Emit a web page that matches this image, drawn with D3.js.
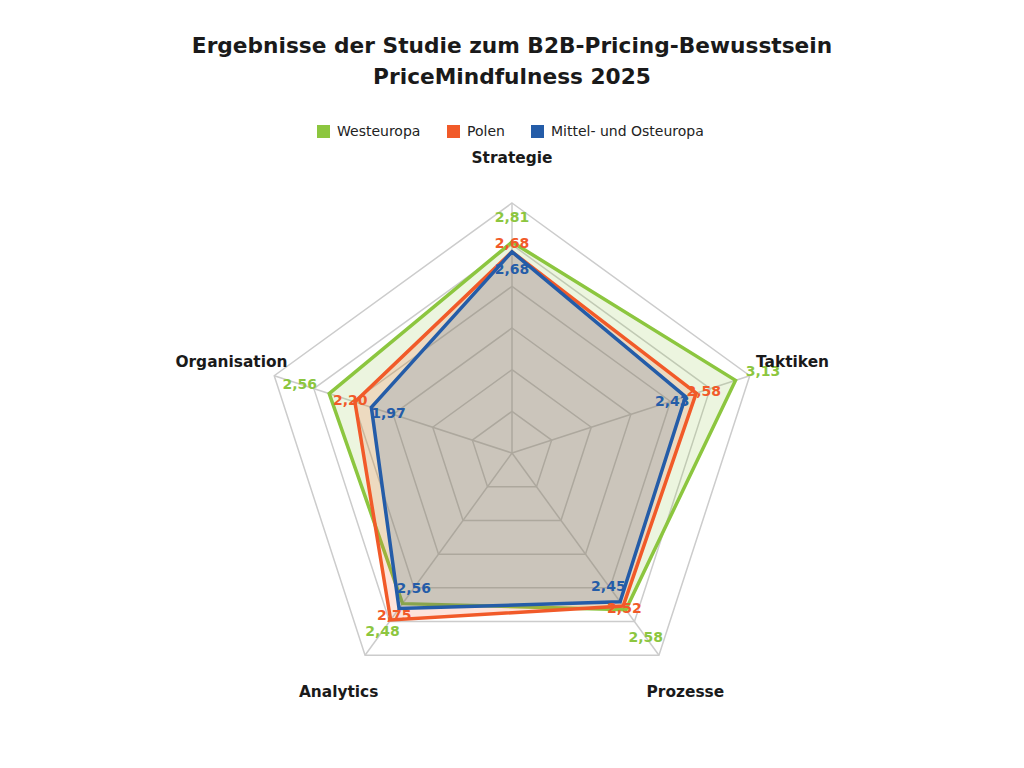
<!DOCTYPE html>
<html>
<head>
<meta charset="utf-8">
<script src="https://cdn.jsdelivr.net/npm/d3@7"></script>
<style>
  body { margin: 0; background: #fff; }
  svg { display: block; }
</style>
</head>
<body>
<svg width="1024" height="768"></svg>
<script>
// data
var categories = ["Strategie", "Taktiken", "Prozesse", "Analytics", "Organisation"];
var seriesNames = ["Westeuropa", "Polen", "Mittel- und Osteuropa"];
var westeuropa = [2.81, 3.13, 2.58, 2.48, 2.56];
var polen = [2.68, 2.58, 2.52, 2.75, 2.20];
var moe = [2.68, 2.43, 2.45, 2.56, 1.97];
var seriesColors = ["#8cc63f", "#f15a29", "#245ca8"];
var maxValue = 3.33;
var ringCount = 6;

var series = [westeuropa, polen, moe];
// radial nudge of each value label away from its point (px), per series and axis
var labelShift = [
  [25, 29, 34, 34, 31],
  [9, 8, 2, -6, 5],
  [-17, -14, -20, -25, -18]
];

var svg = d3.select("svg");
var cx = 512, cy = 453, radius = 250;

var rscale = d3.scaleLinear().domain([0, maxValue]).range([0, radius]);
var ascale = d3.scalePoint().domain(categories).range([0, 2 * Math.PI * 4 / 5]);

function px(cat, r) { return Math.sin(ascale(cat)) * r; }
function py(cat, r) { return -Math.cos(ascale(cat)) * r; }

// title
svg.append("text")
   .attr("x", 512).attr("y", 53)
   .attr("text-anchor", "middle")
   .attr("font-family", "DejaVu Sans").attr("font-weight", "bold")
   .attr("font-size", 21.7).attr("fill", "#1a1a1a")
   .text("Ergebnisse der Studie zum B2B-Pricing-Bewusstsein");
svg.append("text")
   .attr("x", 512).attr("y", 84)
   .attr("text-anchor", "middle")
   .attr("font-family", "DejaVu Sans").attr("font-weight", "bold")
   .attr("font-size", 21.7).attr("fill", "#1a1a1a")
   .text("PriceMindfulness 2025");

// legend
var legendX = [317, 447, 531];
var legend = svg.append("g");
seriesNames.forEach(function(name, i) {
  legend.append("rect")
        .attr("x", legendX[i]).attr("y", 125)
        .attr("width", 13).attr("height", 13)
        .attr("fill", seriesColors[i]);
  legend.append("text")
        .attr("x", legendX[i] + 20).attr("y", 136)
        .attr("font-family", "DejaVu Sans").attr("font-size", 14)
        .attr("fill", "#222")
        .text(name);
});

var chart = svg.append("g").attr("transform", "translate(" + cx + "," + cy + ")");

// grid
var line = d3.lineRadial()
             .angle(function(d) { return ascale(d.cat); })
             .radius(function(d) { return rscale(d.v); })
             .curve(d3.curveLinearClosed);

var levels = d3.range(1, ringCount + 1).map(function(k) { return maxValue * k / ringCount; });
chart.selectAll(".ring")
     .data(levels)
     .enter().append("path")
     .attr("class", "ring")
     .attr("d", function(l) { return line(categories.map(function(c) { return { cat: c, v: l }; })); })
     .attr("fill", "none")
     .attr("stroke", "#cccccc")
     .attr("stroke-width", 1.5);

chart.selectAll(".spoke")
     .data(categories)
     .enter().append("line")
     .attr("class", "spoke")
     .attr("x1", 0).attr("y1", 0)
     .attr("x2", function(c) { return px(c, radius); })
     .attr("y2", function(c) { return py(c, radius); })
     .attr("stroke", "#cccccc")
     .attr("stroke-width", 1.5);

// series
series.forEach(function(vals, i) {
  var pts = categories.map(function(c, j) { return { cat: c, v: vals[j] }; });
  chart.append("path")
       .attr("d", line(pts))
       .attr("fill", seriesColors[i])
       .attr("fill-opacity", 0.17)
       .attr("stroke", seriesColors[i])
       .attr("stroke-width", 3.5)
       .attr("stroke-linejoin", "miter");
});

// value labels
series.forEach(function(vals, i) {
  chart.selectAll(".val" + i)
       .data(categories)
       .enter().append("text")
       .attr("class", "val" + i)
       .attr("x", function(c, j) { return px(c, rscale(vals[j]) + labelShift[i][j]); })
       .attr("y", function(c, j) { return py(c, rscale(vals[j]) + labelShift[i][j]); })
       .attr("dy", "0.35em")
       .attr("text-anchor", "middle")
       .attr("font-family", "DejaVu Sans").attr("font-weight", "bold")
       .attr("font-size", 14)
       .attr("fill", seriesColors[i])
       .text(function(c, j) { return d3.format(".2f")(vals[j]).replace(".", ","); });
});

// axis labels
chart.selectAll(".cat")
     .data(categories)
     .enter().append("text")
     .attr("class", "cat")
     .attr("x", function(c) { return px(c, 295); })
     .attr("y", function(c) { return py(c, 295); })
     .attr("dy", "0.35em")
     .attr("text-anchor", "middle")
     .attr("font-family", "DejaVu Sans").attr("font-weight", "bold")
     .attr("font-size", 15.4)
     .attr("fill", "#1a1a1a")
     .text(function(c) { return c; });
</script>
</body>
</html>
